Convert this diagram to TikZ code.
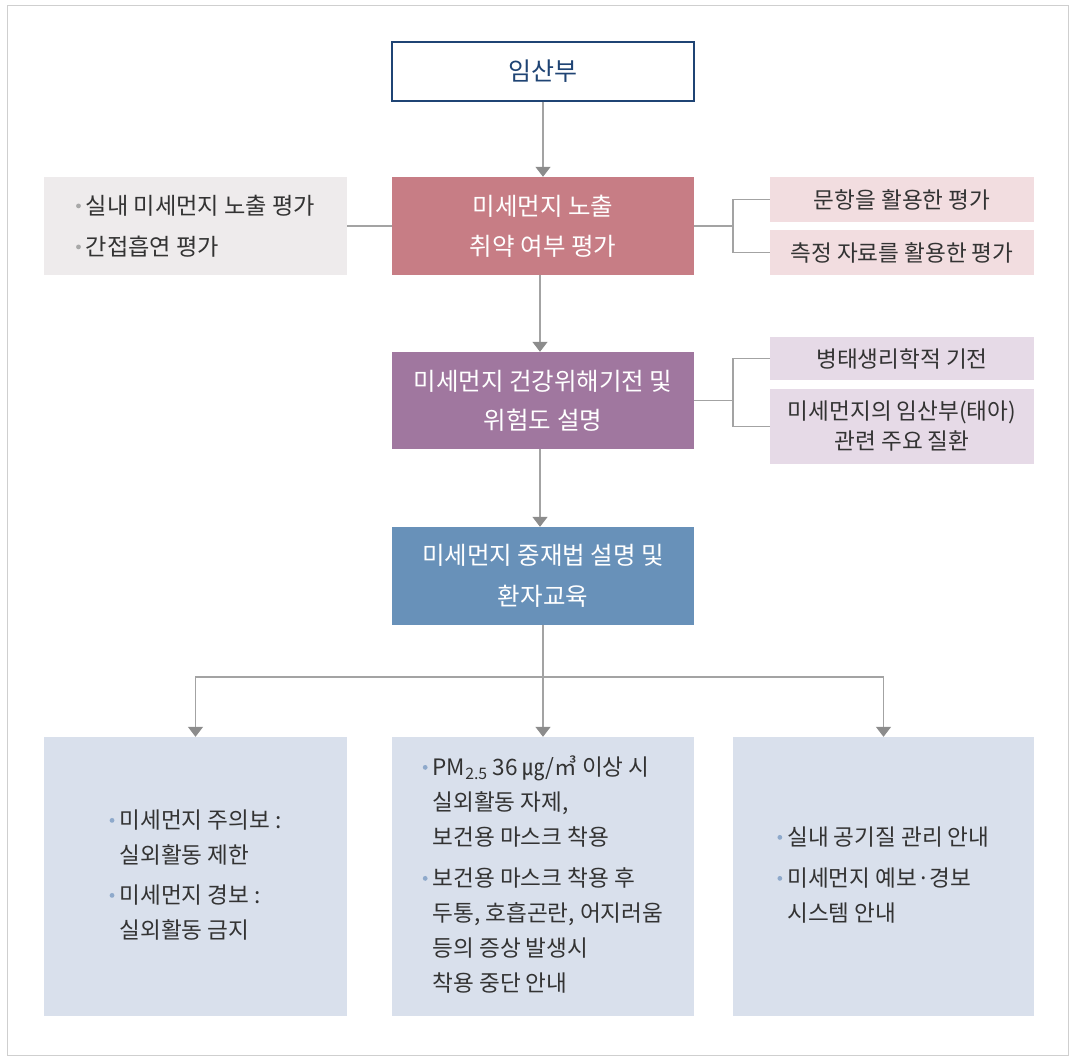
\documentclass[tikz,border=0pt]{standalone}
\usepackage{fontspec}
\setmainfont{Noto Sans CJK KR}
\usetikzlibrary{arrows.meta}
\definecolor{cExpo}{HTML}{C77D85}
\definecolor{cHealth}{HTML}{A0779F}
\definecolor{cInter}{HTML}{6891B9}
\definecolor{cGrayBox}{HTML}{EEEBEC}
\definecolor{cPink}{HTML}{F2DDE0}
\definecolor{cPurple}{HTML}{E6DAE7}
\definecolor{cBottom}{HTML}{D9E0EC}
\definecolor{cLine}{HTML}{A3A3A3}
\definecolor{cTip}{HTML}{8C8C8C}
\definecolor{cNavy}{HTML}{1F4474}
\definecolor{cText}{HTML}{333333}
\definecolor{cFrame}{HTML}{CFCFCF}
\definecolor{cDotGray}{HTML}{A8A8A8}
\definecolor{cDotBlue}{HTML}{8EA9CB}
\newcommand\mydot[1]{\tikz[baseline=-0.36em]\fill[#1] (0,0) circle (2.4pt);}
\tikzset{
  mainbox/.style={minimum width=302pt, minimum height=98pt, text=white, align=center, inner sep=0pt,
                  font={\fontsize{24.5}{40}\selectfont}},
  sidebox/.style={minimum width=264pt, inner sep=0pt, text=cText, align=center,
                  font={\fontsize{22.6}{30}\selectfont}},
  bottombox/.style={fill=cBottom, minimum height=279pt, inner sep=0pt, text=cText, align=left,
                  font={\fontsize{22.6}{35}\selectfont}},
  conn/.style={draw=cLine, line width=1.3pt},
  arr/.style={conn, -{Triangle[width=15pt,length=10pt,fill=cTip,color=cTip]}},
}
\begin{document}
\begin{tikzpicture}[x=1pt,y=-1pt]
\useasboundingbox (0,0) rectangle (1073,1061);
\draw[cFrame, line width=1pt] (7,5) rectangle (1068,1055);

% main column
\node[draw=cNavy, line width=1.1pt, fill=white, minimum width=302pt, minimum height=59pt, inner sep=0pt,
      text=cNavy, font={\fontsize{25}{30}\selectfont}] (top) at (543,71.5) {임산부};
\node[mainbox, fill=cExpo] (expo) at (543,226) {미세먼지 노출\\취약 여부 평가};
\node[mainbox, fill=cHealth, minimum height=97pt, font={\fontsize{24.5}{39}\selectfont}] (health) at (543,400.5) {미세먼지 건강위해기전 및\\위험도 설명};
\node[mainbox, fill=cInter, font={\fontsize{24.5}{41}\selectfont}] (inter) at (543,576) {미세먼지 중재법 설명 및\\환자교육};

% left gray box
\node[fill=cGrayBox, minimum width=303pt, minimum height=98pt, inner sep=0pt, text=cText, align=left,
      font={\fontsize{23.2}{41}\selectfont}] (left) at (195.5,226)
  {\mydot{cDotGray}\hspace{5pt}실내 미세먼지 노출 평가\\\mydot{cDotGray}\hspace{5pt}간접흡연 평가};

% right boxes
\node[sidebox, fill=cPink, minimum height=45pt] (pink1) at (902,199.5) {문항을 활용한 평가};
\node[sidebox, fill=cPink, minimum height=45pt] (pink2) at (902,252.5) {측정 자료를 활용한 평가};
\node[sidebox, fill=cPurple, minimum height=43pt] (purp1) at (902,358.5) {병태생리학적 기전};
\node[sidebox, fill=cPurple, minimum height=75pt] (purp2) at (902,426.5) {미세먼지의 임산부(태아)\\관련 주요 질환};

% bottom boxes
\node[bottombox, minimum width=303pt] (bl) at (195.5,876.5) {%
  \begin{tabular}{@{}l@{\hspace{5pt}}l@{}}
  \mydot{cDotBlue} & 미세먼지 주의보 :\\
   & 실외활동 제한\\[5pt]
  \mydot{cDotBlue} & 미세먼지 경보 :\\
   & 실외활동 금지
  \end{tabular}};
\node[bottombox, minimum width=302pt] (bm) at (543,876.5) {%
  \begin{tabular}{@{}l@{\hspace{5pt}}l@{}}
  \mydot{cDotBlue} & PM\textsubscript{2.5} 36 ㎍/㎥ 이상 시\\
   & 실외활동 자제,\\
   & 보건용 마스크 착용\\[6pt]
  \mydot{cDotBlue} & 보건용 마스크 착용 후\\
   & 두통, 호흡곤란, 어지러움\\
   & 등의 증상 발생시\\
   & 착용 중단 안내
  \end{tabular}};
\node[bottombox, minimum width=301pt] (br) at (883.5,876.5) {%
  \begin{tabular}{@{}l@{\hspace{5pt}}l@{}}
  \mydot{cDotBlue} & 실내 공기질 관리 안내\\[6pt]
  \mydot{cDotBlue} & 미세먼지 예보·경보\\
   & 시스템 안내
  \end{tabular}};

% connectors
\draw[arr] (top.south) -- (expo.north);
\draw[arr] ([xshift=-3pt]expo.south) -- ([xshift=-3pt]health.north);
\draw[arr] ([xshift=-3pt]health.south) -- ([xshift=-3pt]inter.north);
\draw[conn] (left.east) -- (expo.west);

\coordinate (j1) at (733,226);
\draw[conn] (expo.east) -- (j1);
\draw[conn] (pink1.west) -| (j1) |- (pink2.west);

\coordinate (j2) at (733,400.5);
\draw[conn] (health.east) -- (j2);
\draw[conn] (purp1.west) -| (j2) |- (purp2.west);

\coordinate (b0) at (543,677);
\draw[conn] (inter.south) -- (b0);
\draw[arr] (b0) -- (bm.north);
\draw[arr] (b0) -| (bl.north);
\draw[arr] (b0) -| (br.north);
\end{tikzpicture}
\end{document}
